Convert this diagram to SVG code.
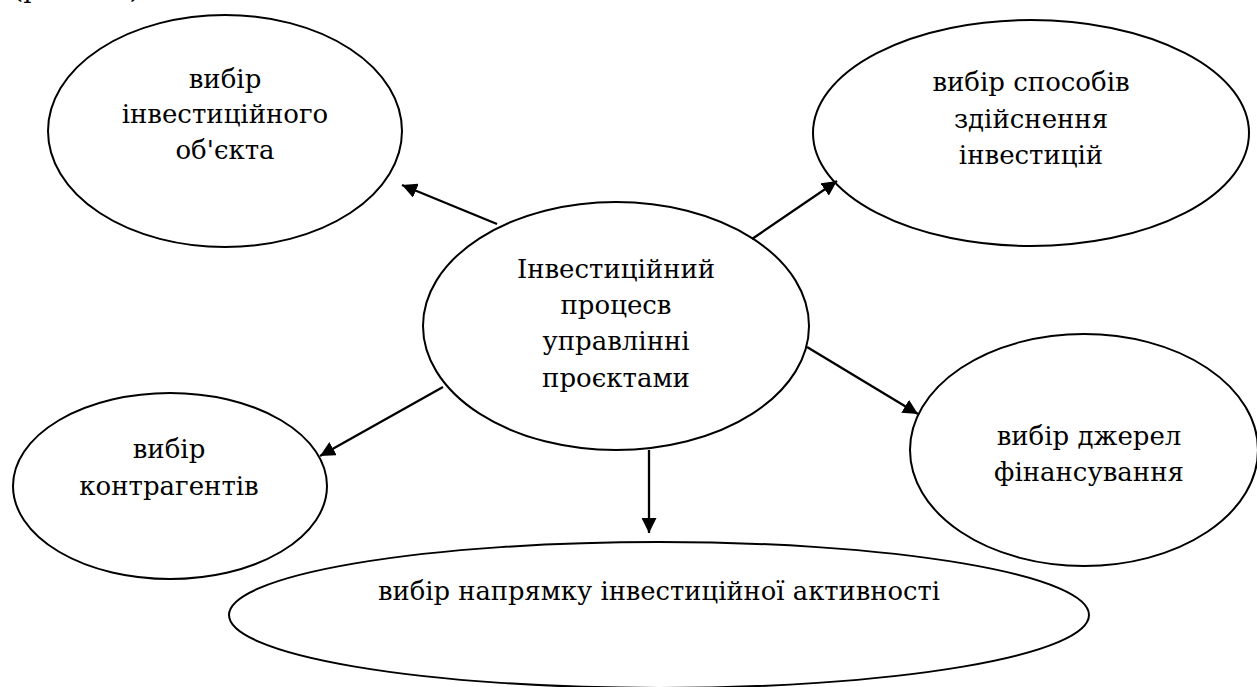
<svg xmlns="http://www.w3.org/2000/svg" width="1257" height="687" viewBox="0 0 1257 687">
  <style>
    .node { fill: #ffffff; stroke: #000000; stroke-width: 2; }
    .lbl { font-family: 'DejaVu Serif', 'Liberation Serif', serif; font-size: 26px; fill: #000000; text-anchor: middle; }
    .edge { stroke: #000000; stroke-width: 2.3; fill: none; marker-end: url(#arrow); }
  </style>
  <defs>
    <marker id="arrow" markerUnits="userSpaceOnUse" markerWidth="16" markerHeight="15" refX="15" refY="7.5" orient="auto">
      <path d="M0,0 L15,7.5 L0,15 Z" fill="#000000"/>
    </marker>
  </defs>
  <rect width="1257" height="687" fill="#ffffff"/>

  <!-- caption line above, mostly outside the page -->
  <text class="lbl" x="13" y="-2" style="text-anchor:start">(рис. 1.1)</text>

  <g id="node-object">
    <ellipse class="node" cx="225" cy="131" rx="177" ry="116"/>
    <text class="lbl" x="225" y="88">вибір</text>
    <text class="lbl" x="225" y="123">інвестиційного</text>
    <text class="lbl" x="225" y="159">об'єкта</text>
  </g>

  <g id="node-methods">
    <ellipse class="node" cx="1031" cy="133" rx="218" ry="113"/>
    <text class="lbl" x="1031" y="91">вибір способів</text>
    <text class="lbl" x="1031" y="128">здійснення</text>
    <text class="lbl" x="1031" y="164">інвестицій</text>
  </g>

  <g id="node-center">
    <ellipse class="node" cx="616" cy="326" rx="193" ry="124"/>
    <text class="lbl" x="616" y="278">Інвестиційний</text>
    <text class="lbl" x="616" y="314">процесв</text>
    <text class="lbl" x="616" y="350">управлінні</text>
    <text class="lbl" x="616" y="387">проєктами</text>
  </g>

  <g id="node-sources">
    <ellipse class="node" cx="1084" cy="450" rx="174" ry="116"/>
    <text class="lbl" x="1089" y="445">вибір джерел</text>
    <text class="lbl" x="1089" y="481">фінансування</text>
  </g>

  <g id="node-partners">
    <ellipse class="node" cx="170" cy="486" rx="157" ry="93"/>
    <text class="lbl" x="169" y="458">вибір</text>
    <text class="lbl" x="169" y="495">контрагентів</text>
  </g>

  <g id="node-direction">
    <ellipse class="node" cx="659" cy="615" rx="430" ry="73"/>
    <text class="lbl" x="659" y="600" textLength="562" lengthAdjust="spacingAndGlyphs">вибір напрямку інвестиційної активності</text>
  </g>

  <g id="connectors">
    <line class="edge" x1="497" y1="224" x2="402" y2="185"/>
    <line class="edge" x1="752" y1="239" x2="837" y2="181"/>
    <line class="edge" x1="807" y1="347" x2="918" y2="414"/>
    <line class="edge" x1="443" y1="387" x2="320" y2="456"/>
    <line class="edge" x1="649" y1="450" x2="649" y2="533"/>
  </g>
</svg>
